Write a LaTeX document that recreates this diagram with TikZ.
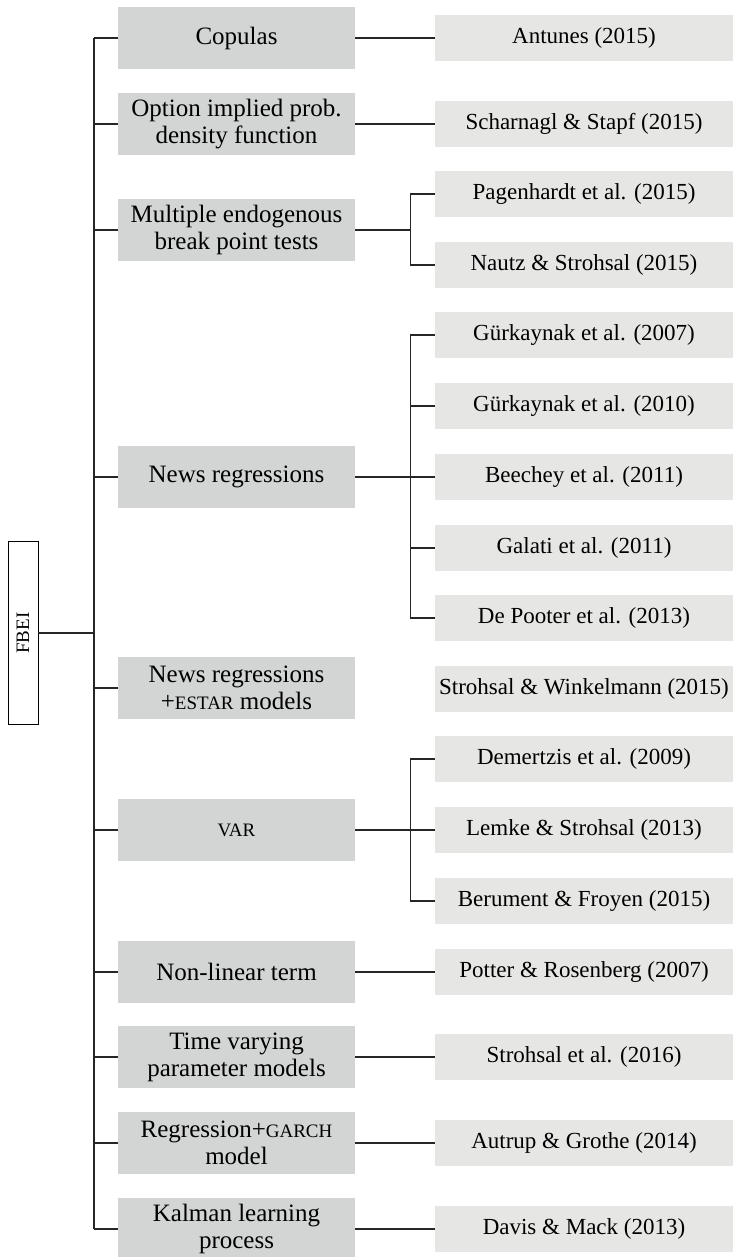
\documentclass[tikz,border=0pt]{standalone}
\usepackage{fontspec}
\setmainfont{Liberation Serif}
\definecolor{catgray}{RGB}{211,212,212}
\definecolor{refgray}{RGB}{230,231,229}
\newcommand{\abbr}[1]{{\fontsize{19}{22}\selectfont #1}}

\begin{document}
\begin{tikzpicture}[x=1pt,y=-1pt,
  method/.style={fill=catgray,minimum width=237pt,minimum height=62pt,align=center,inner sep=2pt,font=\fontsize{25}{27}\selectfont},
  paper/.style={fill=refgray,minimum width=298pt,minimum height=46pt,inner sep=2pt,font=\fontsize{23}{26}\selectfont},
  link/.style={draw=black!85,line width=1.2pt}]
\useasboundingbox (0,0) rectangle (734,1257);
\node[draw,fill=white,line width=0.8pt,minimum width=30pt,minimum height=183pt] (fbei) at (23,633) {};
\node[rotate=90,font=\fontsize{19}{21}\selectfont] at (fbei) {FBEI};
\coordinate (trunk) at (94,633);

\node[method] (copulas) at (236.5,38) {Copulas};
\node[method] (optpdf) at (236.5,124) {Option implied prob.\\density function};
\node[method] (breaks) at (236.5,230) {Multiple endogenous\\break point tests};
\node[method] (news) at (236.5,477) {News regressions};
\node[method] (estar) at (236.5,688) {News regressions\\+\abbr{ESTAR} models};
\node[method] (var) at (236.5,830) {\abbr{VAR}};
\node[method] (nonlin) at (236.5,972) {Non-linear term};
\node[method] (tvp) at (236.5,1057) {Time varying\\parameter models};
\node[method] (garch) at (236.5,1143) {Regression+\abbr{GARCH}\\model};
\node[method] (kalman) at (236.5,1229) {Kalman learning\\process};

\node[paper] (antunes) at (584,38) {Antunes (2015)};
\node[paper] (scharnagl) at (584,124) {Scharnagl \& Stapf (2015)};
\node[paper] (pagenhardt) at (584,194) {Pagenhardt et al. (2015)};
\node[paper] (nautz) at (584,265) {Nautz \& Strohsal (2015)};
\node[paper] (gurk07) at (584,335) {Gürkaynak et al. (2007)};
\node[paper] (gurk10) at (584,406) {Gürkaynak et al. (2010)};
\node[paper] (beechey) at (584,477) {Beechey et al. (2011)};
\node[paper] (galati) at (584,548) {Galati et al. (2011)};
\node[paper] (depooter) at (584,618) {De Pooter et al. (2013)};
\node[paper] (winkelmann) at (584,689) {Strohsal \& Winkelmann (2015)};
\node[paper] (demertzis) at (584,759) {Demertzis et al. (2009)};
\node[paper] (lemke) at (584,830) {Lemke \& Strohsal (2013)};
\node[paper] (berument) at (584,901) {Berument \& Froyen (2015)};
\node[paper] (potter) at (584,972) {Potter \& Rosenberg (2007)};
\node[paper] (strohsal16) at (584,1057) {Strohsal et al. (2016)};
\node[paper] (autrup) at (584,1143) {Autrup \& Grothe (2014)};
\node[paper] (davis) at (584,1229) {Davis \& Mack (2013)};

\draw[link] (fbei.east) -- (trunk);
\draw[link] (trunk |- copulas.west) -- (trunk |- kalman.west);
\draw[link] (trunk |- copulas.west) -- (copulas.west);
\draw[link] (trunk |- optpdf.west) -- (optpdf.west);
\draw[link] (trunk |- breaks.west) -- (breaks.west);
\draw[link] (trunk |- news.west) -- (news.west);
\draw[link] (trunk |- estar.west) -- (estar.west);
\draw[link] (trunk |- var.west) -- (var.west);
\draw[link] (trunk |- nonlin.west) -- (nonlin.west);
\draw[link] (trunk |- tvp.west) -- (tvp.west);
\draw[link] (trunk |- garch.west) -- (garch.west);
\draw[link] (trunk |- kalman.west) -- (kalman.west);

\draw[link] (copulas.east) -- (antunes.west);
\draw[link] (optpdf.east) -- (scharnagl.west);
\draw[link] (breaks.east) -| ([xshift=-24pt]pagenhardt.west) -- (pagenhardt.west);
\draw[link] (breaks.east) -| ([xshift=-24pt]nautz.west) -- (nautz.west);
\draw[link] (news.east) -| ([xshift=-24pt]gurk07.west) -- (gurk07.west);
\draw[link] (news.east) -| ([xshift=-24pt]gurk10.west) -- (gurk10.west);
\draw[link] (news.east) -- (beechey.west);
\draw[link] (news.east) -| ([xshift=-24pt]galati.west) -- (galati.west);
\draw[link] (news.east) -| ([xshift=-24pt]depooter.west) -- (depooter.west);
\draw[link] (var.east) -| ([xshift=-24pt]demertzis.west) -- (demertzis.west);
\draw[link] (var.east) -- (lemke.west);
\draw[link] (var.east) -| ([xshift=-24pt]berument.west) -- (berument.west);
\draw[link] (nonlin.east) -- (potter.west);
\draw[link] (tvp.east) -- (strohsal16.west);
\draw[link] (garch.east) -- (autrup.west);
\draw[link] (kalman.east) -- (davis.west);
\end{tikzpicture}
\end{document}
